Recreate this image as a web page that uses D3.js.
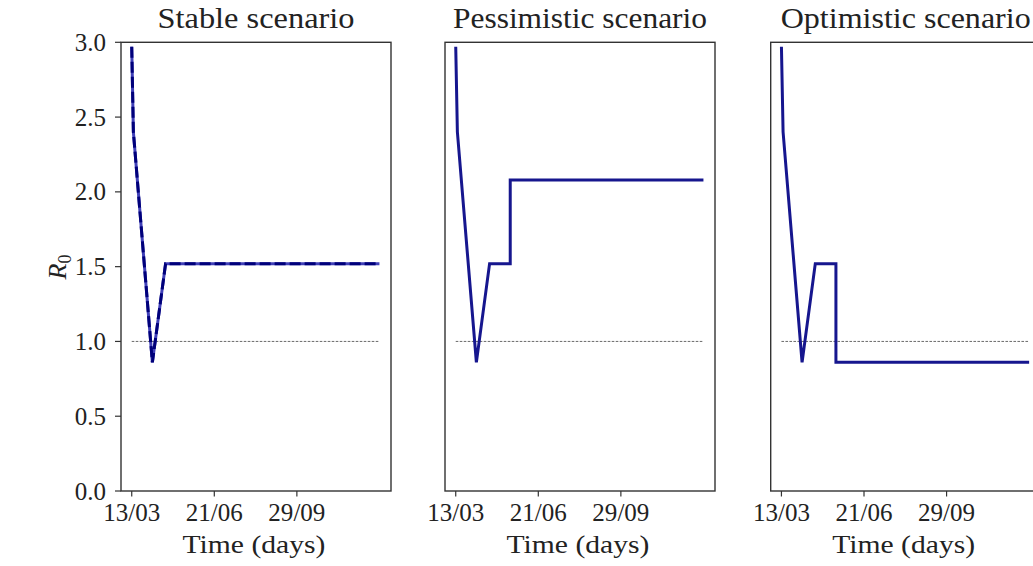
<!DOCTYPE html>
<html>
<head>
<meta charset="utf-8">
<script src="https://cdn.jsdelivr.net/npm/d3@7"></script>
<style>
  html, body { margin: 0; padding: 0; background: #fff; }
  svg { display: block; }
  text { font-family: "Liberation Serif", "DejaVu Serif", serif; fill: #222; }
</style>
</head>
<body>
<svg id="chart" width="1033" height="566"></svg>
<script>
// ---- data (days since 13/03, R0 values) ----
const titles = ["Stable scenario", "Pessimistic scenario", "Optimistic scenario"];
const stableDays = [0, 2, 25, 41, 300];
const stableR0 = [2.97, 2.40, 0.86, 1.52, 1.52];
const pessimisticDays = [0, 2, 25, 41, 66, 66, 300];
const pessimisticR0 = [2.97, 2.40, 0.86, 1.52, 1.52, 2.08, 2.08];
const optimisticDays = [0, 2, 25, 41, 66, 66, 300];
const optimisticR0 = [2.97, 2.40, 0.86, 1.52, 1.52, 0.86, 0.86];
const xTickDays = [0, 100, 200];
const xTickLabels = ["13/03", "21/06", "29/09"];
const yTicks = [0.0, 0.5, 1.0, 1.5, 2.0, 2.5, 3.0];
const thresholdDays = [0, 300];
const thresholdValue = 1.0;

const series = [
  {days: stableDays, r0: stableR0, dashed: true},
  {days: pessimisticDays, r0: pessimisticR0, dashed: false},
  {days: optimisticDays, r0: optimisticR0, dashed: false}
];

const svg = d3.select("#chart");
const panelLeft = [121, 445, 770.7];
const panelW = 270;
const plotTop = 42.3, plotBottom = 491;
const titleLen = [197, 254, 250];

const y = d3.scaleLinear().domain([0, 3]).range([plotBottom, plotTop]);

series.forEach((s, i) => {
  const x = d3.scaleLinear().domain([-13, 314]).range([panelLeft[i], panelLeft[i] + panelW]);
  const g = svg.append("g");

  // threshold line
  g.append("line")
    .attr("x1", x(thresholdDays[0])).attr("x2", x(thresholdDays[1]))
    .attr("y1", y(thresholdValue)).attr("y2", y(thresholdValue))
    .attr("stroke", "#444").attr("stroke-width", 0.8)
    .attr("stroke-dasharray", "2.6,1.4");

  const pts = s.days.map((d, k) => [d, s.r0[k]]);
  const line = d3.line().x(d => x(d[0])).y(d => y(d[1]));
  if (s.dashed) {
    g.append("path").attr("d", line(pts)).attr("fill", "none")
      .attr("stroke", "#4040b8").attr("stroke-width", 3).attr("stroke-linejoin", "miter");
    g.append("path").attr("d", line(pts)).attr("fill", "none")
      .attr("stroke", "#00007a").attr("stroke-width", 3).attr("stroke-linejoin", "miter")
      .attr("stroke-dasharray", "11,4");
  } else {
    g.append("path").attr("d", line(pts)).attr("fill", "none")
      .attr("stroke", "#16168e").attr("stroke-width", 3).attr("stroke-linejoin", "miter");
  }

  // frame
  g.append("rect")
    .attr("x", panelLeft[i]).attr("y", plotTop)
    .attr("width", panelW).attr("height", plotBottom - plotTop)
    .attr("fill", "none").attr("stroke", "#333").attr("stroke-width", 1.4);

  // x ticks
  xTickDays.forEach((d, k) => {
    g.append("line").attr("x1", x(d)).attr("x2", x(d))
      .attr("y1", plotBottom).attr("y2", plotBottom + 5.5)
      .attr("stroke", "#333").attr("stroke-width", 1.2);
    g.append("text").attr("x", x(d)).attr("y", 520.5)
      .attr("text-anchor", "middle").attr("font-size", 25)
      .attr("textLength", 57).attr("lengthAdjust", "spacingAndGlyphs")
      .text(xTickLabels[k]);
  });

  // titles and x label
  const cx = panelLeft[i] + panelW / 2;
  g.append("text").attr("x", cx).attr("y", 28)
    .attr("text-anchor", "middle").attr("font-size", 29)
    .attr("textLength", titleLen[i]).attr("lengthAdjust", "spacingAndGlyphs")
    .text(titles[i]);
  g.append("text").attr("x", cx - 2).attr("y", 553)
    .attr("text-anchor", "middle").attr("font-size", 26)
    .attr("textLength", 143).attr("lengthAdjust", "spacingAndGlyphs")
    .text("Time (days)");

  if (i === 0) {
    yTicks.forEach(v => {
      g.append("line").attr("x1", panelLeft[0] - 6).attr("x2", panelLeft[0])
        .attr("y1", y(v)).attr("y2", y(v))
        .attr("stroke", "#333").attr("stroke-width", 1.2);
      g.append("text").attr("x", 106).attr("y", y(v) + 8.5)
        .attr("text-anchor", "end").attr("font-size", 25)
        .text(v.toFixed(1));
    });
    const lab = g.append("text")
      .attr("transform", "translate(66,267) rotate(-90)")
      .attr("text-anchor", "middle").attr("font-size", 26);
    lab.append("tspan").attr("font-style", "italic").text("R");
    lab.append("tspan").attr("font-size", 18).attr("dy", 5).text("0");
  }
});
</script>
</body>
</html>
